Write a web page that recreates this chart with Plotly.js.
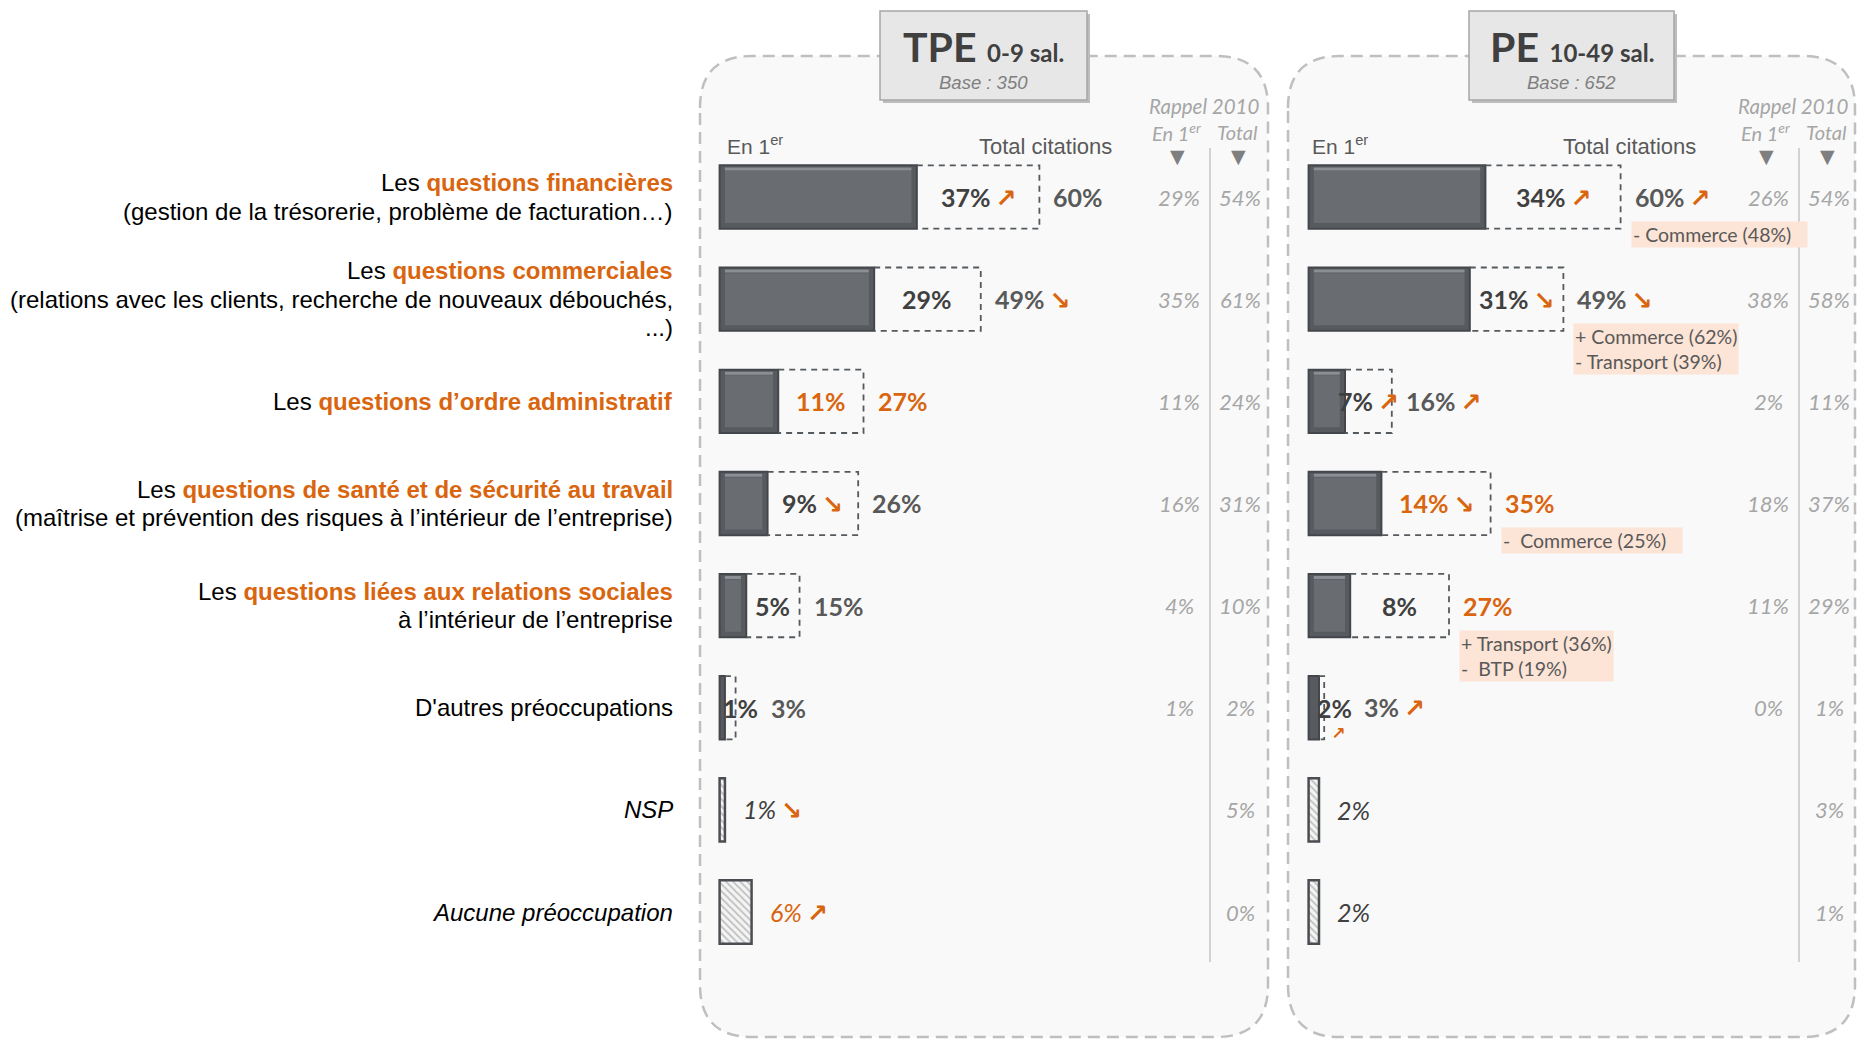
<!DOCTYPE html>
<html><head><meta charset="utf-8">
<script src="https://cdn.plot.ly/plotly-3.0.1.min.js"></script>
<style>html,body{margin:0;padding:0;background:#fff}#chart{width:1862px;height:1039px}</style>
</head><body><div id="chart"></div>
<script>
// ---------------- DATA ----------------
const catPrefix = ["Les ", "Les ", "Les ", "Les ", "Les ", "", "", ""];
const catHighlight = ["questions financières", "questions commerciales", "questions d’ordre administratif",
  "questions de santé et de sécurité au travail", "questions liées aux relations sociales", "", "", ""];
const catPlain = ["", "", "", "", "", "D'autres préoccupations", "NSP", "Aucune préoccupation"];
const catDetail = [["(gestion de la trésorerie, problème de facturation…)"],
  ["(relations avec les clients, recherche de nouveaux débouchés,", "...)"], [],
  ["(maîtrise et prévention des risques à l’intérieur de l’entreprise)"],
  ["à l’intérieur de l’entreprise"], [], [], []];
const catItalic = [0, 0, 0, 0, 0, 0, 1, 1];
const catHatched = [0, 0, 0, 0, 0, 0, 1, 1];

const tpeFirst = [37, 29, 11, 9, 5, 1, 1, 6];
const tpeTotal = [60, 49, 27, 26, 15, 3, null, null];
const tpeFirstTrend = ["up", "", "", "down", "", "", "down", "up"];
const tpeTotalTrend = ["", "down", "", "", "", "", "", ""];
const tpeFirstHl = [0, 0, 1, 0, 0, 0, 0, 1];
const tpeTotalHl = [0, 0, 1, 0, 0, 0, 0, 0];
const tpeRappelFirst = [29, 35, 11, 16, 4, 1, null, null];
const tpeRappelTotal = [54, 61, 24, 31, 10, 2, 5, 0];
const tpeNotes = ["", "", "", "", "", "", "", ""];

const peFirst = [34, 31, 7, 14, 8, 2, 2, 2];
const peTotal = [60, 49, 16, 35, 27, 3, null, null];
const peFirstTrend = ["up", "down", "up", "down", "", "up", "", ""];
const peTotalTrend = ["up", "down", "up", "", "", "up", "", ""];
const peFirstHl = [0, 0, 0, 1, 0, 0, 0, 0];
const peTotalHl = [0, 0, 0, 1, 1, 0, 0, 0];
const peRappelFirst = [26, 38, 2, 18, 11, 0, null, null];
const peRappelTotal = [54, 58, 11, 37, 29, 1, 3, 1];
const peNotes = ["- Commerce (48%)", "+ Commerce (62%)<br>- Transport (39%)", "",
  "-  Commerce (25%)", "+ Transport (36%)<br>-  BTP (19%)", "", "", ""];

const panelTitles = ["TPE", "PE"];
const panelSub = ["0-9 sal.", "10-49 sal."];
const panelBase = ["Base : 350", "Base : 652"];

// ---------------- STYLE ----------------
const W = 1862, H = 1039;
const ORANGE = "#d9650f", DARK = "#404040", GREY = "#595959", LIGHT = "#a6a6a6";
const VAL_FONT = "Lato, 'Open Sans', sans-serif";
const ARIAL = "'Liberation Sans', Arial, sans-serif";
const NARROW = "'Liberation Sans Narrow', 'Arial Narrow', 'Liberation Sans', sans-serif";
const PX = x => x / W, PY = y => 1 - y / H;
const BARW = 0.62;
const INSET = 1.0;      // bevel inset (axis units)
const LINE_H = 28.5;    // label line spacing (px)

const panels = [
  {xa: "x", first: tpeFirst, total: tpeTotal, ft: tpeFirstTrend, tt: tpeTotalTrend, fh: tpeFirstHl, th: tpeTotalHl,
   rf: tpeRappelFirst, rt: tpeRappelTotal, notes: tpeNotes,
   L: 700, R: 1268, box: [880, 1087], rapF: 1179, rapT: 1240, rapTitle: 1204, sep: 1210, en1: 725, totRight: 1114},
  {xa: "x2", first: peFirst, total: peTotal, ft: peFirstTrend, tt: peTotalTrend, fh: peFirstHl, th: peTotalHl,
   rf: peRappelFirst, rt: peRappelTotal, notes: peNotes,
   L: 1288, R: 1855, box: [1469, 1674], rapF: 1768, rapT: 1829, rapTitle: 1793, sep: 1799, en1: 1310, totRight: 1698}
];

const arrowGlyph = t => t === "up" ? "↗" : (t === "down" ? "↘" : "");
const arrowSpan = t => t ? `<span style="color:${ORANGE};font-family:'DejaVu Sans';font-weight:bold">\u2009${arrowGlyph(t)}</span>` : "";

const traces = [], annotations = [], shapes = [];
const idx = tpeFirst.map((_, i) => i);

panels.forEach((p, k) => {
  // panel background (rounded dashed)
  const L = PX(p.L), R = PX(p.R), T = PY(56), B = PY(1037);
  const rx = 52 / W, ry = 52 / H;
  shapes.push({type: "path", xref: "paper", yref: "paper", layer: "below",
    path: `M ${L} ${T - ry} Q ${L} ${T} ${L + rx} ${T} L ${R - rx} ${T} Q ${R} ${T} ${R} ${T - ry} L ${R} ${B + ry} Q ${R} ${B} ${R - rx} ${B} L ${L + rx} ${B} Q ${L} ${B} ${L} ${B + ry} Z`,
    fillcolor: "#f9f9f9", line: {color: "#bfbfbf", width: 2.5, dash: "12px,7px"}});
  // header box with shadow
  shapes.push({type: "rect", xref: "paper", yref: "paper", layer: "above",
    x0: PX(p.box[0] + 3), x1: PX(p.box[1] + 3), y0: PY(14), y1: PY(103), fillcolor: "#bdbdbd", line: {width: 0}});
  shapes.push({type: "rect", xref: "paper", yref: "paper", layer: "above",
    x0: PX(p.box[0]), x1: PX(p.box[1]), y0: PY(11), y1: PY(100), fillcolor: "#e7e7e7", line: {color: "#a6a6a6", width: 1.5}});
  const cx = PX((p.box[0] + p.box[1]) / 2);
  annotations.push({xref: "paper", yref: "paper", x: cx, y: PY(47), xanchor: "center", yanchor: "middle", showarrow: false,
    text: `<b>${panelTitles[k]}</b> <b><span style="font-size:24px">${panelSub[k]}</span></b>`,
    font: {family: VAL_FONT, size: 41, color: DARK}});
  annotations.push({xref: "paper", yref: "paper", x: cx, y: PY(82), xanchor: "center", yanchor: "middle", showarrow: false,
    text: `<i>${panelBase[k]}</i>`, font: {family: ARIAL, size: 18.5, color: "#7f7f7f"}});
  // column headers
  annotations.push({xref: "paper", yref: "paper", x: PX(p.en1), y: PY(145), xanchor: "left", yanchor: "middle", showarrow: false,
    text: "En 1<sup>er</sup>", font: {family: ARIAL, size: 21, color: GREY}});
  annotations.push({xref: "paper", yref: "paper", x: PX(p.totRight), y: PY(146), xanchor: "right", yanchor: "middle", showarrow: false,
    text: "Total citations", font: {family: ARIAL, size: 22, color: GREY}});
  annotations.push({xref: "paper", yref: "paper", x: PX(p.rapTitle), y: PY(106), xanchor: "center", yanchor: "middle", showarrow: false,
    text: "<i>Rappel 2010</i>", font: {family: VAL_FONT, size: 20.5, color: LIGHT}});
  annotations.push({xref: "paper", yref: "paper", x: PX(p.rapF - 3), y: PY(132), xanchor: "center", yanchor: "middle", showarrow: false,
    text: "<i>En 1<sup>er</sup></i>", font: {family: VAL_FONT, size: 20, color: LIGHT}});
  annotations.push({xref: "paper", yref: "paper", x: PX(p.rapT - 3), y: PY(132), xanchor: "center", yanchor: "middle", showarrow: false,
    text: "<i>Total</i>", font: {family: VAL_FONT, size: 20, color: LIGHT}});
  [p.rapF - 2, p.rapT - 2].forEach(x => annotations.push({xref: "paper", yref: "paper", x: PX(x), y: PY(156),
    xanchor: "center", yanchor: "middle", showarrow: false, text: "▼", font: {family: "'DejaVu Sans'", size: 19, color: "#7f7f7f"}}));
  shapes.push({type: "line", xref: "paper", yref: "paper", layer: "below", x0: PX(p.sep), x1: PX(p.sep), y0: PY(148), y1: PY(962),
    line: {color: "#c4c4c4", width: 1.5}});

  // bars (solid) with bevel-like inner face
  const solid = idx.filter(i => !catHatched[i]);
  const hatch = idx.filter(i => catHatched[i]);
  traces.push({type: "bar", orientation: "h", xaxis: p.xa, yaxis: "y", base: 0,
    x: solid.map(i => p.first[i]), y: solid, width: BARW,
    marker: {color: "#575b60", line: {color: "#43474b", width: 2}}, hoverinfo: "skip"});
  traces.push({type: "bar", orientation: "h", xaxis: p.xa, yaxis: "y", base: INSET,
    x: solid.map(i => Math.max(p.first[i] - 2 * INSET, 0)), y: solid, width: BARW - 0.11,
    marker: {color: "#696d72", line: {width: 0}}, hoverinfo: "skip"});
  const hx = [], hy = [];
  solid.forEach(i => {
    if (p.first[i] - 2 * INSET <= 0) return;
    hx.push(INSET, p.first[i] - INSET, null);
    hy.push(i - BARW / 2 + 0.035, i - BARW / 2 + 0.035, null);
  });
  traces.push({type: "scatter", mode: "lines", xaxis: p.xa, yaxis: "y", x: hx, y: hy,
    line: {color: "#8b8f94", width: 3}, hoverinfo: "skip"});
  traces.push({type: "bar", orientation: "h", xaxis: p.xa, yaxis: "y", base: 0,
    x: hatch.map(i => p.first[i]), y: hatch, width: BARW,
    marker: {color: "#f2f2f2", line: {color: "#4a4e52", width: 2.5},
      pattern: {shape: "\\", fgcolor: "#8c8c8c", bgcolor: "#f4f4f4", size: 5, solidity: 0.35, fillmode: "overlay"}},
    hoverinfo: "skip"});
  // dashed total boxes
  const bx = [], by = [];
  idx.forEach(i => {
    if (p.total[i] == null) return;
    bx.push(p.first[i], p.total[i], p.total[i], p.first[i], null);
    by.push(i - BARW / 2, i - BARW / 2, i + BARW / 2, i + BARW / 2, null);
  });
  traces.push({type: "scatter", mode: "lines", xaxis: p.xa, yaxis: "y", x: bx, y: by,
    line: {color: "#555a5e", width: 1.8, dash: "6px,5px"}, hoverinfo: "skip", connectgaps: false});

  // value labels
  idx.forEach(i => {
    const f = p.first[i], t = p.total[i];
    if (t != null) {
      const fc = Math.max((f + t) / 2, f + 3);
      const small = (t - f) < 2 && p.ft[i];
      annotations.push({xref: p.xa, yref: "y", x: fc, y: i, xanchor: "center", yanchor: "middle", showarrow: false,
        text: `<b>${f}%</b>` + (small ? "" : arrowSpan(p.ft[i])),
        font: {family: VAL_FONT, size: 25, color: p.fh[i] ? ORANGE : DARK}});
      if (small) {
        annotations.push({xref: p.xa, yref: "y", x: fc, y: i, xanchor: "center", yanchor: "middle", showarrow: false,
          yshift: -25, xshift: 2, text: arrowSpan(p.ft[i]), font: {family: VAL_FONT, size: 17, color: ORANGE}});
      }
      annotations.push({xref: p.xa, yref: "y", x: Math.max(t, fc + 3), y: i, xanchor: "left", yanchor: "middle", showarrow: false,
        xshift: 12, text: `<b>${t}%</b>` + arrowSpan(p.tt[i]),
        font: {family: VAL_FONT, size: 25, color: p.th[i] ? ORANGE : GREY}});
      if (p.notes[i]) {
        annotations.push({xref: p.xa, yref: "y", x: t, y: i, xanchor: "left", yanchor: "top", showarrow: false,
          xshift: 10, yshift: -24, text: p.notes[i] + "\u2003", align: "left", bgcolor: "#fce4d6", borderpad: 1,
          font: {family: VAL_FONT, size: 19.5, color: GREY}});
      }
    } else {
      annotations.push({xref: p.xa, yref: "y", x: f, y: i, xanchor: "left", yanchor: "middle", showarrow: false,
        xshift: 16, text: `<i>${f}%</i>` + arrowSpan(p.ft[i]),
        font: {family: VAL_FONT, size: 25, color: p.fh[i] ? ORANGE : DARK}});
    }
    // rappel 2010
    if (p.rf[i] != null) annotations.push({xref: "paper", yref: "y", x: PX(p.rapF), y: i, xanchor: "center", yanchor: "middle",
      showarrow: false, text: `<i>${p.rf[i]}%</i>`, font: {family: VAL_FONT, size: 22, color: LIGHT}});
    if (p.rt[i] != null) annotations.push({xref: "paper", yref: "y", x: PX(p.rapT), y: i, xanchor: "center", yanchor: "middle",
      showarrow: false, text: `<i>${p.rt[i]}%</i>`, font: {family: VAL_FONT, size: 22, color: LIGHT}});
  });
});

// category labels (one annotation per line, fixed line spacing)
idx.forEach(i => {
  let lines;
  if (catHighlight[i]) {
    lines = [`${catPrefix[i]}<b><span style="color:${ORANGE}">${catHighlight[i]}</span></b>`].concat(catDetail[i]);
  } else {
    lines = [catItalic[i] ? `<i>${catPlain[i]}</i>` : catPlain[i]];
  }
  const n = lines.length;
  lines.forEach((ln, j) => {
    annotations.push({xref: "paper", yref: "y", x: PX(675), y: i, xanchor: "right", yanchor: "middle", align: "right",
      showarrow: false, text: ln, yshift: ((n - 1) / 2 - j) * LINE_H,
      font: {family: catHighlight[i] ? NARROW : ARIAL, size: 24, color: "#000000"}});
  });
});

const ax = {showgrid: false, zeroline: false, showticklabels: false, showline: false, ticks: "", fixedrange: true};
const layout = {
  width: W, height: H, margin: {l: 0, r: 0, t: 0, b: 0}, autosize: false,
  paper_bgcolor: "#ffffff", plot_bgcolor: "rgba(0,0,0,0)", showlegend: false, barmode: "overlay",
  xaxis: Object.assign({}, ax, {domain: [700 / W, 1268 / W], range: [(700 - 719.6) / 5.33, (1268 - 719.6) / 5.33]}),
  xaxis2: Object.assign({}, ax, {domain: [1288 / W, 1855 / W], range: [(1288 - 1308.6) / 5.2, (1855 - 1308.6) / 5.2], anchor: "y"}),
  yaxis: Object.assign({}, ax, {domain: [0, 1], range: [8.243, -1.929]}),
  shapes: shapes, annotations: annotations
};
Plotly.newPlot("chart", traces, layout, {displayModeBar: false, staticPlot: true});
</script></body></html>
